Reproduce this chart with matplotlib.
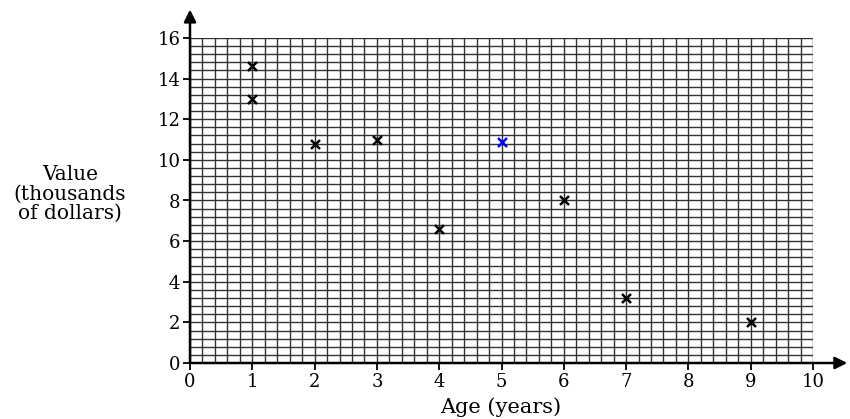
import matplotlib
matplotlib.use('Agg')
import matplotlib.pyplot as plt
import numpy as np

# car age vs value
age = [1, 1, 2, 3, 4, 5, 6, 7, 9]
value = [14.6, 13.0, 10.8, 11.0, 6.6, 10.9, 8.0, 3.2, 2.0]
colors = ['black', 'black', 'black', 'black', 'black', 'blue', 'black', 'black', 'black']
x_ticks = list(range(0, 11))
y_ticks = list(range(0, 17, 2))

plt.rcParams['font.family'] = ['DejaVu Serif', 'Liberation Serif']

fig = plt.figure(figsize=(8.5, 4.19), dpi=100)
ax = fig.add_axes([190/850, 1 - 363/419, 623/850, 325/419])
ax.set_xlim(0, 10)
ax.set_ylim(0, 16)

# graph paper grid
for gx in np.arange(0, 10.01, 0.2):
    ax.axvline(gx, color='#333333', lw=1.0, zorder=1)
for gy in np.arange(0, 16.01, 0.4):
    ax.axhline(gy, color='#333333', lw=1.0, zorder=1)

for a, v, c in zip(age, value, colors):
    ax.scatter(a, v, marker='x', s=42, color=c, linewidths=1.8, zorder=3)

for s in ['top', 'right', 'left', 'bottom']:
    ax.spines[s].set_visible(False)

# axes with arrows
ax.annotate('', xy=(10.55, 0), xytext=(0, 0), xycoords='data',
            arrowprops=dict(arrowstyle='-|>', color='black', lw=1.8,
                            mutation_scale=18, shrinkA=0, shrinkB=0),
            annotation_clip=False, zorder=4)
ax.annotate('', xy=(0, 17.4), xytext=(0, 0), xycoords='data',
            arrowprops=dict(arrowstyle='-|>', color='black', lw=1.8,
                            mutation_scale=18, shrinkA=0, shrinkB=0),
            annotation_clip=False, zorder=4)

ax.set_xticks(x_ticks)
ax.set_yticks(y_ticks)
ax.tick_params(axis='both', direction='out', length=5, width=1.3,
               labelsize=13, pad=2, colors='black')

fig.text(501/850, 1 - 407/419, 'Age (years)', ha='center', va='center', fontsize=15)
fig.text(70/850, 1 - 194/419, 'Value\n(thousands\nof dollars)', ha='center', va='center',
         fontsize=14.5, linespacing=1.05)

fig.savefig('out.png', dpi=100)
